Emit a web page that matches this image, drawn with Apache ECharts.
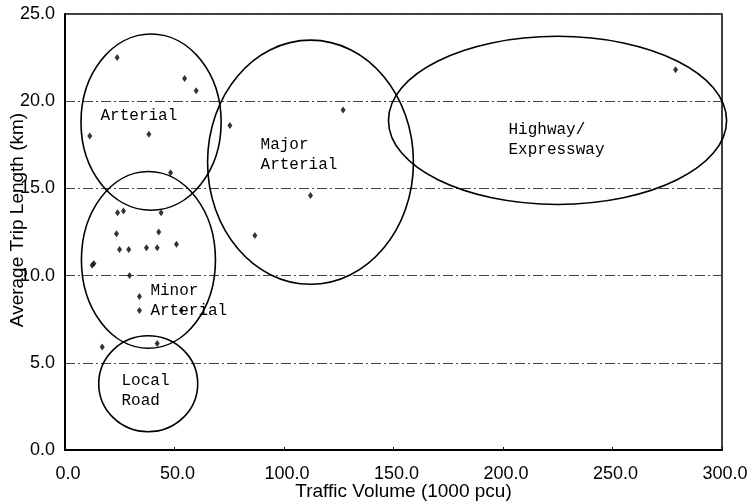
<!DOCTYPE html>
<html>
<head>
<meta charset="utf-8">
<script src="https://cdn.jsdelivr.net/npm/echarts@6/dist/echarts.min.js"></script>
<style>
  html, body { margin: 0; padding: 0; background: #fff; }
  #chart { width: 751px; height: 504px; }
</style>
</head>
<body>
<div id="chart"></div>
<script>
// Observed links: traffic volume (1000 pcu) vs average trip length (km)
const trafficVolume = [23.8, 54.6, 59.9, 11.3, 38.3, 75.3, 48.2, 24.0, 26.7, 43.9,
                       23.5, 42.8, 24.9, 29.1, 37.2, 42.1, 50.9, 13.2, 12.4, 29.5,
                       34.0, 34.0, 53.1, 17.0, 42.1, 127.0, 112.1, 86.7, 278.8];
const tripLength    = [22.5, 21.3, 20.6, 18.0, 18.1, 18.6, 15.9, 13.6, 13.7, 13.6,
                       12.4, 12.5, 11.5, 11.5, 11.6, 11.6, 11.8, 10.7, 10.6, 10.0,
                       8.8, 8.0, 8.0, 5.9, 6.1, 19.5, 14.6, 12.3, 21.8];

// Road class zones (ellipses in axis units)
const zoneNames    = ['Arterial', 'Minor\nArterial', 'Local\nRoad', 'Major\nArterial', 'Highway/\nExpressway'];
const zoneCenterX  = [39.3, 38.1, 38.0, 112.1, 224.9];
const zoneCenterY  = [18.8, 10.9, 3.8, 16.5, 18.9];
const zoneRadiusX  = [32.0, 30.6, 22.6, 47.0, 77.2];
const zoneRadiusY  = [5.05, 5.07, 2.75, 7.0, 4.82];
// Anchor (left edge, vertical middle) of each zone's caption
const captionX     = [16.2, 39.0, 25.8, 89.3, 202.5];
const captionY     = [19.15, 8.57, 3.38, 16.91, 17.78];

const xTicks = { min: 0, max: 300, interval: 50 };
const yTicks = { min: 0, max: 25, interval: 5 };

const points = trafficVolume.map((v, i) => [v, tripLength[i]]);
const zones = zoneNames.map((n, i) => [zoneCenterX[i], zoneCenterY[i], zoneRadiusX[i], zoneRadiusY[i]]);
const captions = zoneNames.map((n, i) => [captionX[i], captionY[i], n]);

const chart = echarts.init(document.getElementById('chart'), null, { renderer: 'canvas' });

const labelFont = '"Liberation Sans", Arial, sans-serif';
const zoneFont = '"Liberation Mono", "Courier New", monospace';

chart.setOption({
  animation: false,
  backgroundColor: '#fff',
  grid: {
    left: 65, right: 29, top: 14, bottom: 54,
    outerBoundsMode: 'none', containLabel: false,
    show: true, borderColor: '#000', borderWidth: 1.5, backgroundColor: 'transparent'
  },
  xAxis: {
    type: 'value',
    min: xTicks.min, max: xTicks.max, interval: xTicks.interval,
    name: 'Traffic Volume (1000 pcu)',
    nameLocation: 'middle', nameGap: 32, nameMoveOverlap: false,
    nameTextStyle: { fontFamily: labelFont, fontSize: 19, color: '#000', padding: [0, 0, 0, 20] },
    axisLine: { lineStyle: { color: '#000', width: 2 } },
    axisTick: { inside: true, length: 3, lineStyle: { color: '#000' } },
    axisLabel: {
      fontFamily: labelFont, fontSize: 18, color: '#000', margin: 15,
      padding: [0, 0, 0, 6],
      formatter: v => v.toFixed(1)
    },
    splitLine: { show: false }
  },
  yAxis: {
    type: 'value',
    min: yTicks.min, max: yTicks.max, interval: yTicks.interval,
    name: 'Average Trip Length (km)',
    nameLocation: 'middle', nameGap: 38, nameRotate: 90, nameMoveOverlap: false,
    nameTextStyle: { fontFamily: labelFont, fontSize: 19, color: '#000', padding: [0, 0, 0, 24] },
    axisLine: { show: true, lineStyle: { color: '#000', width: 2 } },
    axisTick: { show: false },
    axisLabel: {
      fontFamily: labelFont, fontSize: 18, color: '#000', margin: 10,
      padding: [8, 0, 0, 0],
      formatter: v => v.toFixed(1)
    },
    splitLine: { show: true, lineStyle: { color: '#444', width: 1, type: [10, 3, 2, 3] } }
  },
  series: [
    {
      type: 'custom',
      name: 'zones',
      data: zones,
      clip: false,
      silent: true,
      renderItem: (params, api) => {
        const c = api.coord([api.value(0), api.value(1)]);
        const s = api.size([api.value(2), api.value(3)]);
        return {
          type: 'ellipse',
          shape: { cx: c[0], cy: c[1], rx: s[0], ry: s[1] },
          style: { fill: 'none', stroke: '#000', lineWidth: 1.6 }
        };
      },
      z: 3
    },
    {
      type: 'custom',
      name: 'captions',
      data: captions,
      clip: false,
      silent: true,
      renderItem: (params, api) => {
        const c = api.coord([api.value(0), api.value(1)]);
        return {
          type: 'text',
          x: c[0], y: c[1],
          style: {
            text: captions[params.dataIndex][2],
            fontFamily: zoneFont, fontSize: 16, lineHeight: 20,
            fill: '#000', align: 'left', verticalAlign: 'middle'
          }
        };
      },
      z: 4
    },
    {
      type: 'scatter',
      name: 'links',
      data: points,
      symbol: 'diamond',
      symbolSize: [5, 7],
      itemStyle: { color: '#000' },
      z: 5
    }
  ]
});
</script>
</body>
</html>
